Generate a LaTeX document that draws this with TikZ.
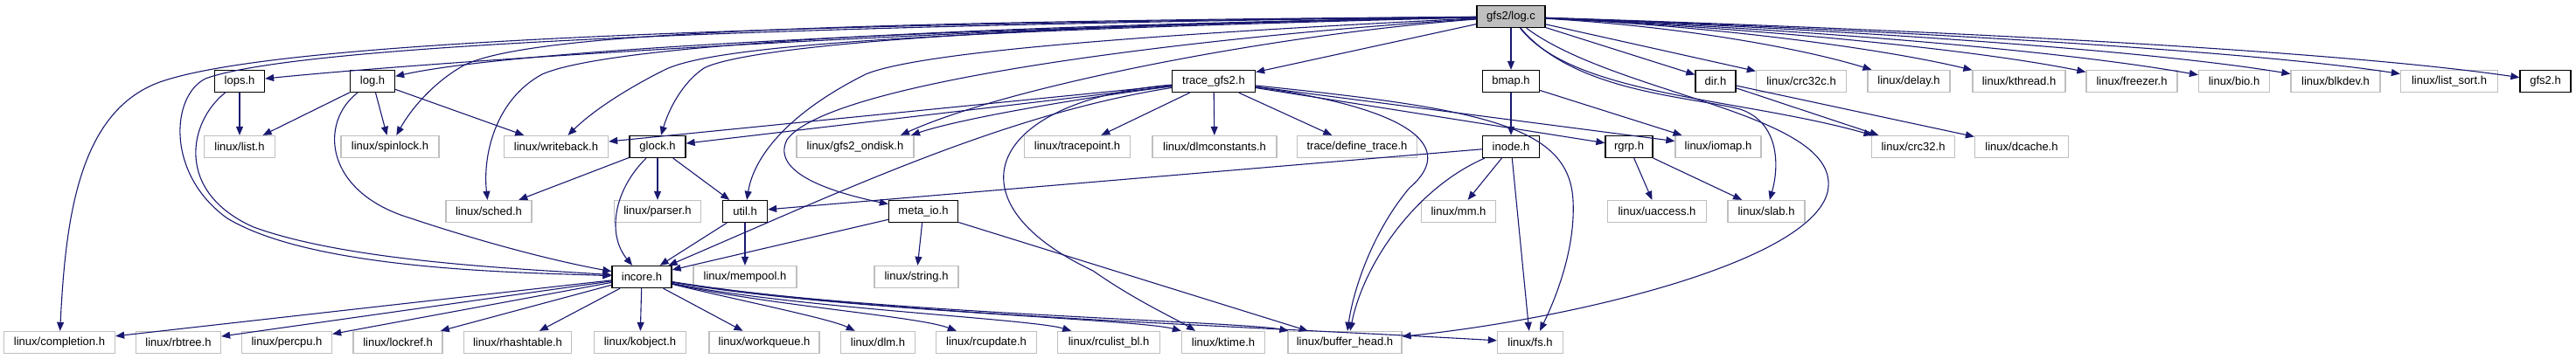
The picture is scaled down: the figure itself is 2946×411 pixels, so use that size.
\documentclass[tikz,border=0pt]{standalone}
\usepackage{fontspec}
\setmainfont{Liberation Sans}
\usetikzlibrary{arrows.meta}
\definecolor{edgec}{HTML}{191970}
\definecolor{grayb}{HTML}{BFBFBF}
\definecolor{rootfill}{HTML}{BFBFBF}
\begin{document}
\begin{tikzpicture}[x=1pt,y=-1pt,
  box/.style={rectangle, minimum height=25pt, inner sep=0pt, font=\fontsize{13}{15}\selectfont, fill=white},
  sys/.style={box, draw=grayb, line width=1.3pt},
  loc/.style={box, draw=black, line width=1.3pt},
  root/.style={box, draw=black, fill=rootfill, line width=1.3pt},
  dep/.style={draw=edgec, line width=1.1pt, -{Triangle[length=10pt,width=8pt]}}]
\useasboundingbox (0,0) rectangle (2946,411);
% level 0
\node[root, minimum width=78pt] (logc) at (1728,19) {gfs2/log.c};
% level 1
\node[loc, minimum width=57pt] (lops) at (274,93) {lops.h};
\node[loc, minimum width=51pt] (logh) at (426,93) {log.h};
\node[loc, minimum width=95pt] (trace) at (1388,93) {trace\_gfs2.h};
\node[loc, minimum width=65pt] (bmap) at (1728,93) {bmap.h};
\node[loc, minimum width=46pt] (dir) at (1962,93) {dir.h};
\node[sys, minimum width=103pt] (crc32c) at (2060,93) {linux/crc32c.h};
\node[sys, minimum width=94pt] (delay) at (2183,93) {linux/delay.h};
\node[sys, minimum width=106pt] (kthread) at (2309,93) {linux/kthread.h};
\node[sys, minimum width=104pt] (freezer) at (2438,93) {linux/freezer.h};
\node[sys, minimum width=81pt] (bio) at (2555,93) {linux/bio.h};
\node[sys, minimum width=102pt] (blkdev) at (2671,93) {linux/blkdev.h};
\node[sys, minimum width=111pt] (listsort) at (2801,93) {linux/list\_sort.h};
\node[loc, minimum width=58pt] (gfstwo) at (2911,93) {gfs2.h};
% level 2
\node[sys, minimum width=81pt] (list) at (274,168) {linux/list.h};
\node[sys, minimum width=112pt] (spinlock) at (446,168) {linux/spinlock.h};
\node[sys, minimum width=119pt] (writeback) at (636,168) {linux/writeback.h};
\node[loc, minimum width=64pt] (glock) at (752,168) {glock.h};
\node[sys, minimum width=134pt] (ondisk) at (978,168) {linux/gfs2\_ondisk.h};
\node[sys, minimum width=121pt] (tracepoint) at (1232,168) {linux/tracepoint.h};
\node[sys, minimum width=142pt] (dlmconst) at (1389,168) {linux/dlmconstants.h};
\node[sys, minimum width=137pt] (definetrace) at (1552,168) {trace/define\_trace.h};
\node[loc, minimum width=65pt] (inode) at (1728,168) {inode.h};
\node[loc, minimum width=54pt] (rgrp) at (1863,168) {rgrp.h};
\node[sys, minimum width=98pt] (iomap) at (1965,168) {linux/iomap.h};
\node[sys, minimum width=95pt] (crc32) at (2188,168) {linux/crc32.h};
\node[sys, minimum width=107pt] (dcache) at (2312,168) {linux/dcache.h};
% level 3
\node[sys, minimum width=98pt] (sched) at (559,242) {linux/sched.h};
\node[sys, minimum width=99pt] (parser) at (752,242) {linux/parser.h};
\node[loc, minimum width=51pt] (util) at (852,242) {util.h};
\node[loc, minimum width=79pt] (metaio) at (1056,242) {meta\_io.h};
\node[sys, minimum width=85pt] (mm) at (1668,242) {linux/mm.h};
\node[sys, minimum width=113pt] (uaccess) at (1895,242) {linux/uaccess.h};
\node[sys, minimum width=88pt] (slab) at (2020,242) {linux/slab.h};
% level 4
\node[loc, minimum width=68pt] (incore) at (734,317) {incore.h};
\node[sys, minimum width=118pt] (mempool) at (852,317) {linux/mempool.h};
\node[sys, minimum width=96pt] (string) at (1048,317) {linux/string.h};
% level 5
\node[sys, minimum width=127pt] (completion) at (68,392) {linux/completion.h};
\node[sys, minimum width=97pt] (rbtree) at (204,392) {linux/rbtree.h};
\node[sys, minimum width=103pt] (percpu) at (328,392) {linux/percpu.h};
\node[sys, minimum width=102pt] (lockref) at (455,392) {linux/lockref.h};
\node[sys, minimum width=123pt] (rhashtable) at (592,392) {linux/rhashtable.h};
\node[sys, minimum width=105pt] (kobject) at (732,392) {linux/kobject.h};
\node[sys, minimum width=126pt] (workqueue) at (874,392) {linux/workqueue.h};
\node[sys, minimum width=85pt] (dlm) at (1004,392) {linux/dlm.h};
\node[sys, minimum width=115pt] (rcupdate) at (1128,392) {linux/rcupdate.h};
\node[sys, minimum width=117pt] (rculist) at (1268,392) {linux/rculist\_bl.h};
\node[sys, minimum width=95pt] (ktime) at (1399,392) {linux/ktime.h};
\node[sys, minimum width=130pt] (bufhead) at (1538,392) {linux/buffer\_head.h};
\node[sys, minimum width=75pt] (fs) at (1750,392) {linux/fs.h};

% edges from gfs2/log.c
\draw[dep] (logc) .. controls (1100,30) and (500,70) .. (lops);
\draw[dep] (logc) .. controls (1100,32) and (600,55) .. (logh);
\draw[dep] (logc) .. controls (800,28) and (300,50) .. (180,95) .. controls (90,130) and (75,250) .. (completion);
\draw[dep] (logc) .. controls (800,30) and (330,55) .. (235,90) .. controls (195,110) and (190,200) .. (260,250) .. controls (360,310) and (600,312) .. (incore);
\draw[dep] (logc) .. controls (900,25) and (600,40) .. (530,75) .. controls (495,95) and (470,125) .. (spinlock);
\draw[dep] (logc) .. controls (1100,30) and (700,50) .. (620,85) .. controls (565,115) and (552,180) .. (sched);
\draw[dep] (logc) .. controls (1100,35) and (820,50) .. (760,80) .. controls (720,100) and (680,125) .. (writeback);
\draw[dep] (logc) .. controls (1100,30) and (850,55) .. (805,78) .. controls (780,95) and (765,125) .. (glock);
\draw[dep] (logc) .. controls (1300,40) and (1050,60) .. (990,85) .. controls (900,130) and (862,180) .. (util);
\draw[dep] (logc) .. controls (1400,40) and (950,90) .. (900,160) .. controls (880,200) and (960,222) .. (metaio);
\draw[dep] (logc) .. controls (1450,40) and (1150,100) .. ([xshift=52pt]ondisk.north);
\draw[dep] (logc) -- (trace);
\draw[dep] (logc) -- (bmap);
\draw[dep] (logc) -- (dir);
\draw[dep] (logc) -- (crc32c);
\draw[dep] (logc) .. controls (1920,30) and (2060,55) .. (delay);
\draw[dep] (logc) .. controls (1960,30) and (2150,55) .. (kthread);
\draw[dep] (logc) .. controls (2000,32) and (2250,55) .. (freezer);
\draw[dep] (logc) .. controls (2030,32) and (2340,55) .. (bio);
\draw[dep] (logc) .. controls (2070,32) and (2440,55) .. (blkdev);
\draw[dep] (logc) .. controls (2100,32) and (2550,55) .. (listsort);
\draw[dep] (logc) .. controls (2140,32) and (2650,55) .. (gfstwo);
\draw[dep] (logc) .. controls (1800,110) and (1990,112) .. (crc32);
\draw[dep] (logc) .. controls (1800,105) and (1930,110) .. (1990,125) .. controls (2035,140) and (2035,190) .. (slab);
\draw[dep] (logc) .. controls (1850,110) and (2110,130) .. (2090,220) .. controls (2070,300) and (1800,365) .. (bufhead);

% lops.h, log.h
\draw[dep] (lops) -- (list);
\draw[dep] (lops) .. controls (215,140) and (200,220) .. (290,260) .. controls (400,300) and (600,308) .. (incore);
\draw[dep] (logh) -- (list);
\draw[dep] (logh) -- (spinlock);
\draw[dep] (logh) -- (writeback);
\draw[dep] (logh) .. controls (365,140) and (370,220) .. (470,250) .. controls (560,280) and (640,300) .. (incore);

% trace_gfs2.h
\draw[dep] (trace) -- (writeback);
\draw[dep] (trace) -- (glock);
\draw[dep] (trace) .. controls (1250,110) and (1100,135) .. ([xshift=64pt]ondisk.north);
\draw[dep] (trace) .. controls (1150,130) and (960,220) .. (incore);
\draw[dep] (trace) -- (tracepoint);
\draw[dep] (trace) -- (dlmconst);
\draw[dep] (trace) -- (definetrace);
\draw[dep] (trace) .. controls (1130,115) and (1080,230) .. (1250,310) .. controls (1300,345) and (1345,365) .. ([xshift=-32pt]ktime.north);
\draw[dep] (trace) .. controls (1620,125) and (1665,170) .. (1612,215) .. controls (1570,265) and (1548,330) .. ([xshift=3pt]bufhead.north);
\draw[dep] (trace) .. controls (1700,125) and (1795,145) .. (1799,230) .. controls (1802,290) and (1775,350) .. ([xshift=11pt]fs.north);
\draw[dep] (trace) -- (rgrp);
\draw[dep] (trace) -- (iomap);

% bmap.h, dir.h, inode.h, rgrp.h
\draw[dep] (bmap) -- (inode);
\draw[dep] (bmap) -- (iomap);
\draw[dep] (dir) -- (crc32);
\draw[dep] (dir) -- (dcache);
\draw[dep] (inode) -- (util);
\draw[dep] (inode) -- (mm);
\draw[dep] (inode) .. controls (1620,215) and (1560,300) .. ([xshift=6pt]bufhead.north);
\draw[dep] (inode) -- (fs);
\draw[dep] (rgrp) -- (uaccess);
\draw[dep] (rgrp) -- (slab);

% glock.h, util.h, meta_io.h
\draw[dep] (glock) -- (sched);
\draw[dep] (glock) -- (parser);
\draw[dep] (glock) -- (util);
\draw[dep] (glock) .. controls (700,220) and (695,270) .. (incore);
\draw[dep] (util) -- (incore);
\draw[dep] (util) -- (mempool);
\draw[dep] (metaio) -- (incore);
\draw[dep] (metaio) -- (string);
\draw[dep] (metaio) -- (bufhead);

% incore.h
\draw[dep] (incore) -- (completion);
\draw[dep] (incore) -- (rbtree);
\draw[dep] (incore) -- (percpu);
\draw[dep] (incore) -- (lockref);
\draw[dep] (incore) -- (rhashtable);
\draw[dep] (incore) -- (kobject);
\draw[dep] (incore) -- (workqueue);
\draw[dep] (incore) .. controls (850,345) and (950,365) .. (dlm);
\draw[dep] (incore) .. controls (880,350) and (1050,362) .. (rcupdate);
\draw[dep] (incore) .. controls (900,352) and (1180,365) .. (rculist);
\draw[dep] (incore) .. controls (950,355) and (1300,365) .. (ktime);
\draw[dep] (incore) .. controls (980,358) and (1420,368) .. (bufhead);
\draw[dep] (incore) .. controls (1000,360) and (1400,372) .. (fs);
\end{tikzpicture}
\end{document}
